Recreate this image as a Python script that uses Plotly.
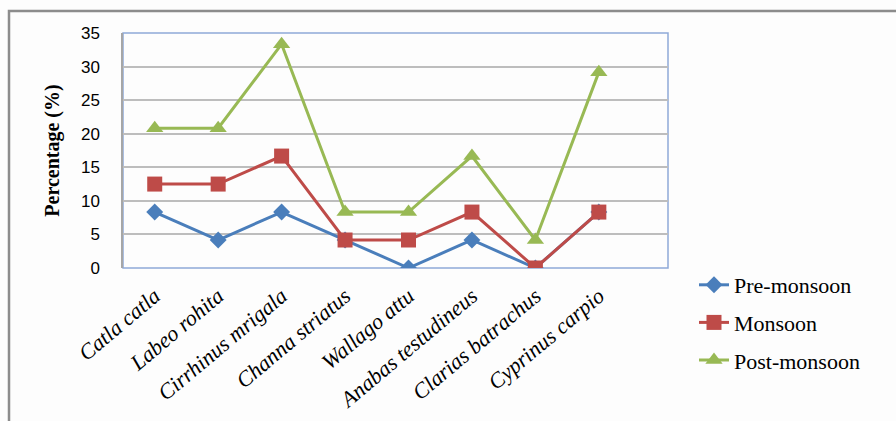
import plotly.graph_objects as go

species = ["Catla catla", "Labeo rohita", "Cirrhinus mrigala", "Channa striatus",
           "Wallago attu", "Anabas testudineus", "Clarias batrachus", "Cyprinus carpio"]
pre_monsoon = [8.33, 4.17, 8.33, 4.17, 0.0, 4.17, 0.0, 8.33]
monsoon = [12.5, 12.5, 16.67, 4.17, 4.17, 8.33, 0.0, 8.33]
post_monsoon = [20.83, 20.83, 33.33, 8.33, 8.33, 16.67, 4.17, 29.17]
y_ticks = [0, 5, 10, 15, 20, 25, 30, 35]

fig = go.Figure()
series = [
    ("Pre-monsoon", pre_monsoon, "#4A7EBB", "diamond", 13),
    ("Monsoon", monsoon, "#BE4B48", "square", 15),
    ("Post-monsoon", post_monsoon, "#98B954", "triangle-up", 15),
]
for i, (name, vals, col, sym, sz) in enumerate(series):
    fig.add_trace(go.Scatter(
        x=species, y=vals, name=name, mode="lines+markers",
        line=dict(color=col, width=3),
        marker=dict(symbol=sym, size=sz, color=col),
        legendgroup=str(i),
    ))

L, T, R, B = 123, 33, 668, 268
W, H = 896, 421
pw, ph = R - L, B - T

fig.update_layout(
    width=W, height=H,
    margin=dict(l=L, r=W - R, t=T, b=H - B, pad=0, autoexpand=False),
    paper_bgcolor="#FDFDFD", plot_bgcolor="#FDFDFD",
    showlegend=True,
    legend=dict(
        x=(694 - L) / pw, y=(B - 264) / ph, xanchor="left", yanchor="top",
        font=dict(family="Liberation Serif", size=22, color="#000"),
        tracegroupgap=6, bgcolor="rgba(0,0,0,0)",
    ),
    xaxis=dict(
        type="category", range=[-0.5, 8.09], tickangle=-40,
        tickfont=dict(family="Liberation Serif", size=22, color="#000", style="italic"),
        showgrid=False, showline=False, ticks="", ticklen=0,
        ticklabelstandoff=10, automargin=False,
    ),
    yaxis=dict(
        range=[0, 35], tickvals=y_ticks, ticktext=[str(v) for v in y_ticks],
        tickfont=dict(family="Liberation Sans", size=17, color="#000"),
        showgrid=True, gridcolor="#BDBDBD", gridwidth=1.5,
        showline=True, linecolor="#A6A6A6", linewidth=1.5,
        ticks="", ticklabelstandoff=18, zeroline=False, automargin=False,
        title=dict(text="<b>Percentage (%)</b>",
                   font=dict(family="Liberation Serif", size=20, color="#000"),
                   standoff=16),
    ),
)

# plot-area frame (blue) and outer chart border
fig.add_shape(type="rect", xref="paper", yref="paper", x0=0, x1=1, y0=0, y1=1,
              line=dict(color="#8EA9D8", width=1.5), layer="below")
fig.add_shape(type="rect", xref="paper", yref="paper",
              x0=(9 - L) / pw, x1=(W + 20 - L) / pw,
              y0=(B - (H + 20)) / ph, y1=(B - 11) / ph,
              line=dict(color="#8C8C8C", width=2.5), layer="below")

fig.write_html("out.html")
